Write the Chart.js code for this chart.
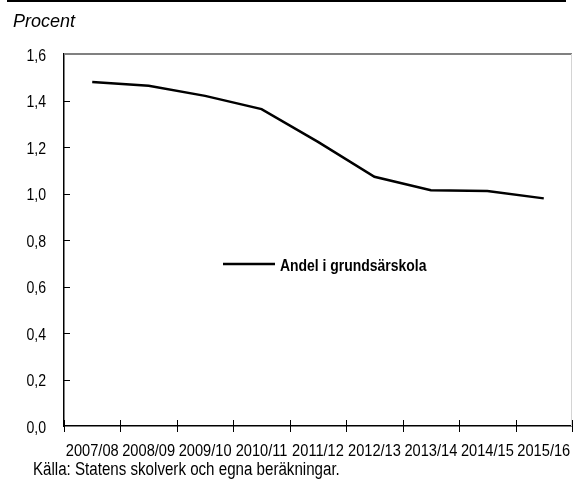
<!DOCTYPE html>
<html><head><meta charset="utf-8">
<script src="https://cdn.jsdelivr.net/npm/chart.js@4"></script>
<style>html,body{margin:0;padding:0;background:#fff}#w{width:573px;height:481px;position:relative}</style>
</head><body><div id="w"><canvas id="c" width="573" height="481"></canvas></div>
<script>
const categories = ["2007/08","2008/09","2009/10","2010/11","2011/12","2012/13","2013/14","2014/15","2015/16"];
const andelValues = [1.48, 1.463, 1.42, 1.363, 1.222, 1.072, 1.014, 1.011, 0.979];
const seriesLabel = "Andel i grundsärskola";
const yTicks = [0, 0.2, 0.4, 0.6, 0.8, 1.0, 1.2, 1.4, 1.6];
const unitLabel = "Procent";
const sourceLabel = "Källa: Statens skolverk och egna beräkningar.";

const SANS = '"Liberation Sans", Arial, sans-serif';

function narrowText(ctx, text, x, y, align, font, sx) {
  ctx.save();
  ctx.font = font;
  ctx.textAlign = align;
  ctx.textBaseline = 'middle';
  ctx.translate(x, y);
  ctx.scale(sx, 1);
  ctx.fillText(text, 0, 0);
  ctx.restore();
}

const decor = {
  id: 'decor',
  afterDraw(chart) {
    const ctx = chart.ctx, a = chart.chartArea;
    const x = chart.scales.x, y = chart.scales.y;
    ctx.save();
    // top black rule
    ctx.strokeStyle = '#000'; ctx.lineWidth = 2;
    ctx.beginPath(); ctx.moveTo(7, 1); ctx.lineTo(566, 1); ctx.stroke();
    // top gray frame line
    ctx.strokeStyle = '#808080'; ctx.lineWidth = 2;
    ctx.beginPath(); ctx.moveTo(a.left, a.top); ctx.lineTo(a.right, a.top); ctx.stroke();
    // right light gray frame line
    ctx.strokeStyle = '#d4d4d4'; ctx.lineWidth = 1;
    ctx.beginPath(); ctx.moveTo(a.right - 0.5, a.top); ctx.lineTo(a.right - 0.5, a.bottom); ctx.stroke();
    // y tick marks pointing inward + labels
    ctx.strokeStyle = '#000'; ctx.lineWidth = 1; ctx.fillStyle = '#000';
    yTicks.forEach(v => {
      const py = y.getPixelForValue(v);
      if (v > 0 && v < 1.6) {
        const ry = Math.round(py) + 0.5;
        ctx.beginPath(); ctx.moveTo(a.left, ry); ctx.lineTo(a.left + 6, ry); ctx.stroke();
      }
      narrowText(ctx, v.toFixed(1).replace('.', ','), 46, py + 2, 'right', '17px ' + SANS, 0.83);
    });
    // x tick marks crossing the axis at category boundaries
    for (let i = 0; i <= categories.length; i++) {
      const px = Math.round(x.getPixelForValue(i - 0.5)) + 0.5;
      ctx.beginPath(); ctx.moveTo(px, a.bottom - 6); ctx.lineTo(px, a.bottom + 6); ctx.stroke();
    }
    categories.forEach((c, i) => {
      narrowText(ctx, c, x.getPixelForValue(i), 451, 'center', '17px ' + SANS, 0.86);
    });
    // unit label
    ctx.font = 'italic 18px ' + SANS;
    ctx.textBaseline = 'middle'; ctx.textAlign = 'left';
    ctx.fillText(unitLabel, 13, 22);
    // source
    narrowText(ctx, sourceLabel, 33, 470, 'left', '18px ' + SANS, 0.84);
    // legend inside plot
    const ds = chart.data.datasets[0];
    ctx.strokeStyle = ds.borderColor; ctx.lineWidth = ds.borderWidth;
    ctx.beginPath(); ctx.moveTo(223, 264); ctx.lineTo(275, 264); ctx.stroke();
    narrowText(ctx, ds.label, 280, 266, 'left', 'bold 17px ' + SANS, 0.82);
    ctx.restore();
  }
};

new Chart(document.getElementById('c'), {
  type: 'line',
  data: {
    labels: categories,
    datasets: [{
      label: seriesLabel,
      data: andelValues,
      borderColor: '#000',
      borderWidth: 2.5,
      pointRadius: 0,
      tension: 0,
      fill: false
    }]
  },
  options: {
    responsive: false,
    animation: false,
    devicePixelRatio: 1,
    layout: { padding: { left: 0, right: 1, top: 54, bottom: 0 } },
    plugins: { legend: { display: false }, tooltip: { enabled: false } },
    scales: {
      x: {
        offset: true,
        grid: { display: false, offset: true },
        border: { display: true, color: '#000', width: 1.5 },
        ticks: { display: false },
        afterFit(s) { s.height = 55; }
      },
      y: {
        min: 0, max: 1.6,
        afterBuildTicks(s) { s.ticks = yTicks.map(v => ({ value: v })); },
        grid: { display: false },
        border: { display: true, color: '#000', width: 1.5 },
        ticks: { display: false },
        afterFit(s) { s.width = 64; }
      }
    }
  },
  plugins: [decor]
});
</script></body></html>
